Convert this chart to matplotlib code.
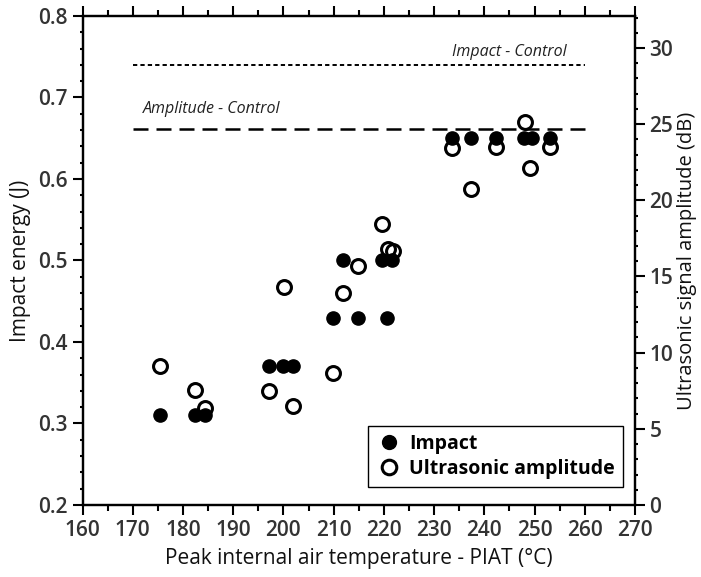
import matplotlib
matplotlib.use("Agg")
import matplotlib.pyplot as plt
from matplotlib.ticker import MultipleLocator

plt.rcParams['font.family'] = ['Open Sans', 'DejaVu Sans']

# Peak internal air temperature (C) and measured values
piat = [175.4, 182.3, 184.4, 197.2, 200.0, 202.0, 209.8, 214.8, 220.7,
        211.9, 219.6, 221.7, 233.5, 237.3, 242.3, 248.0, 249.4, 253.1]
impact = [0.31, 0.31, 0.31, 0.37, 0.37, 0.37, 0.43, 0.43, 0.43,
          0.50, 0.50, 0.50, 0.65, 0.65, 0.65, 0.65, 0.65, 0.65]

piat_us = [175.4, 182.4, 184.4, 197.1, 200.2, 202.0, 209.8, 211.8, 214.8,
           219.6, 220.9, 221.9, 233.5, 237.3, 242.3, 248.1, 249.1, 253.1]
amplitude = [9.15, 7.55, 6.35, 7.50, 14.33, 6.50, 8.65, 13.94, 15.69,
             18.45, 16.79, 16.70, 23.42, 20.73, 23.49, 25.17, 22.11, 23.49]

# control reference levels
impact_control = 0.74
amplitude_control = 24.67
control_span = [170, 260]

fig = plt.figure(figsize=(7.01, 5.77), dpi=100)
ax = fig.add_axes([0.1177, 0.1248, 0.7881, 0.8475])
ax2 = ax.twinx()

ax.plot(piat, impact, 'o', color='black', ms=9.5, label='Impact', zorder=3)
ax2.plot(piat_us, amplitude, 'o', mfc='none', mec='black', mew=2.2, ms=10,
         label='Ultrasonic amplitude', zorder=3)

ax.plot(control_span, [impact_control] * 2, color='black', lw=1.4,
        dashes=(2.2, 1.6))
ax2.plot(control_span, [amplitude_control] * 2, color='black', lw=1.8,
         dashes=(6, 3.2))
ax.text(233.6, 0.756, 'Impact - Control', style='italic', fontsize=11.5,
        fontweight='medium', va='center', color='#222222')
ax.text(172, 0.686, 'Amplitude - Control', style='italic', fontsize=11.5,
        fontweight='medium', va='center', color='#222222')

ax.set_xlim(160, 270)
ax.set_ylim(0.2, 0.8)
ax2.set_ylim(0, 32.1)

ax.xaxis.set_major_locator(MultipleLocator(10))
ax.xaxis.set_minor_locator(MultipleLocator(5))
ax.yaxis.set_major_locator(MultipleLocator(0.1))
ax.yaxis.set_minor_locator(MultipleLocator(0.02))
ax2.yaxis.set_major_locator(MultipleLocator(5))
ax2.yaxis.set_minor_locator(MultipleLocator(1))

tick_col = '#333333'
ax.tick_params(axis='x', which='both', direction='out', top=True,
               labelsize=15, labelcolor=tick_col, width=1.5)
ax.tick_params(axis='x', which='major', length=7)
ax.tick_params(axis='x', which='minor', length=4)
ax.tick_params(axis='y', which='major', direction='out', length=7, width=1.5,
               labelsize=15, labelcolor=tick_col)
ax.tick_params(axis='y', which='minor', direction='out', length=2, width=1.5)
ax2.tick_params(axis='y', which='major', direction='out', length=7, width=1.5,
                labelsize=15, labelcolor=tick_col)
ax2.tick_params(axis='y', which='minor', direction='out', length=2, width=1.5)

for lbl in ax.get_xticklabels() + ax.get_yticklabels() + ax2.get_yticklabels():
    lbl.set_fontweight('semibold')

for a in (ax, ax2):
    for s in a.spines.values():
        s.set_linewidth(1.6)

ax.set_xlabel('Peak internal air temperature - PIAT (°C)', fontsize=15,
              color='#111111', labelpad=5)
ax.set_ylabel('Impact energy (J)', fontsize=15, color='#111111', labelpad=5)
ax2.set_ylabel('Ultrasonic signal amplitude (dB)', fontsize=14.5,
               color='#111111', labelpad=3)

h1, l1 = ax.get_legend_handles_labels()
h2, l2 = ax2.get_legend_handles_labels()
leg = ax2.legend(h1[:1] + h2[:1], l1[:1] + l2[:1], loc='lower right',
                 bbox_to_anchor=(0.978, 0.037), borderaxespad=0,
                 fancybox=False, edgecolor='black', framealpha=1,
                 prop={'weight': 'bold', 'size': 14}, handletextpad=0.4,
                 borderpad=0.4, labelspacing=0.25, handlelength=1.3,
                 markerscale=1.05)
leg.get_frame().set_linewidth(1.0)

fig.savefig('out.png', dpi=100)
